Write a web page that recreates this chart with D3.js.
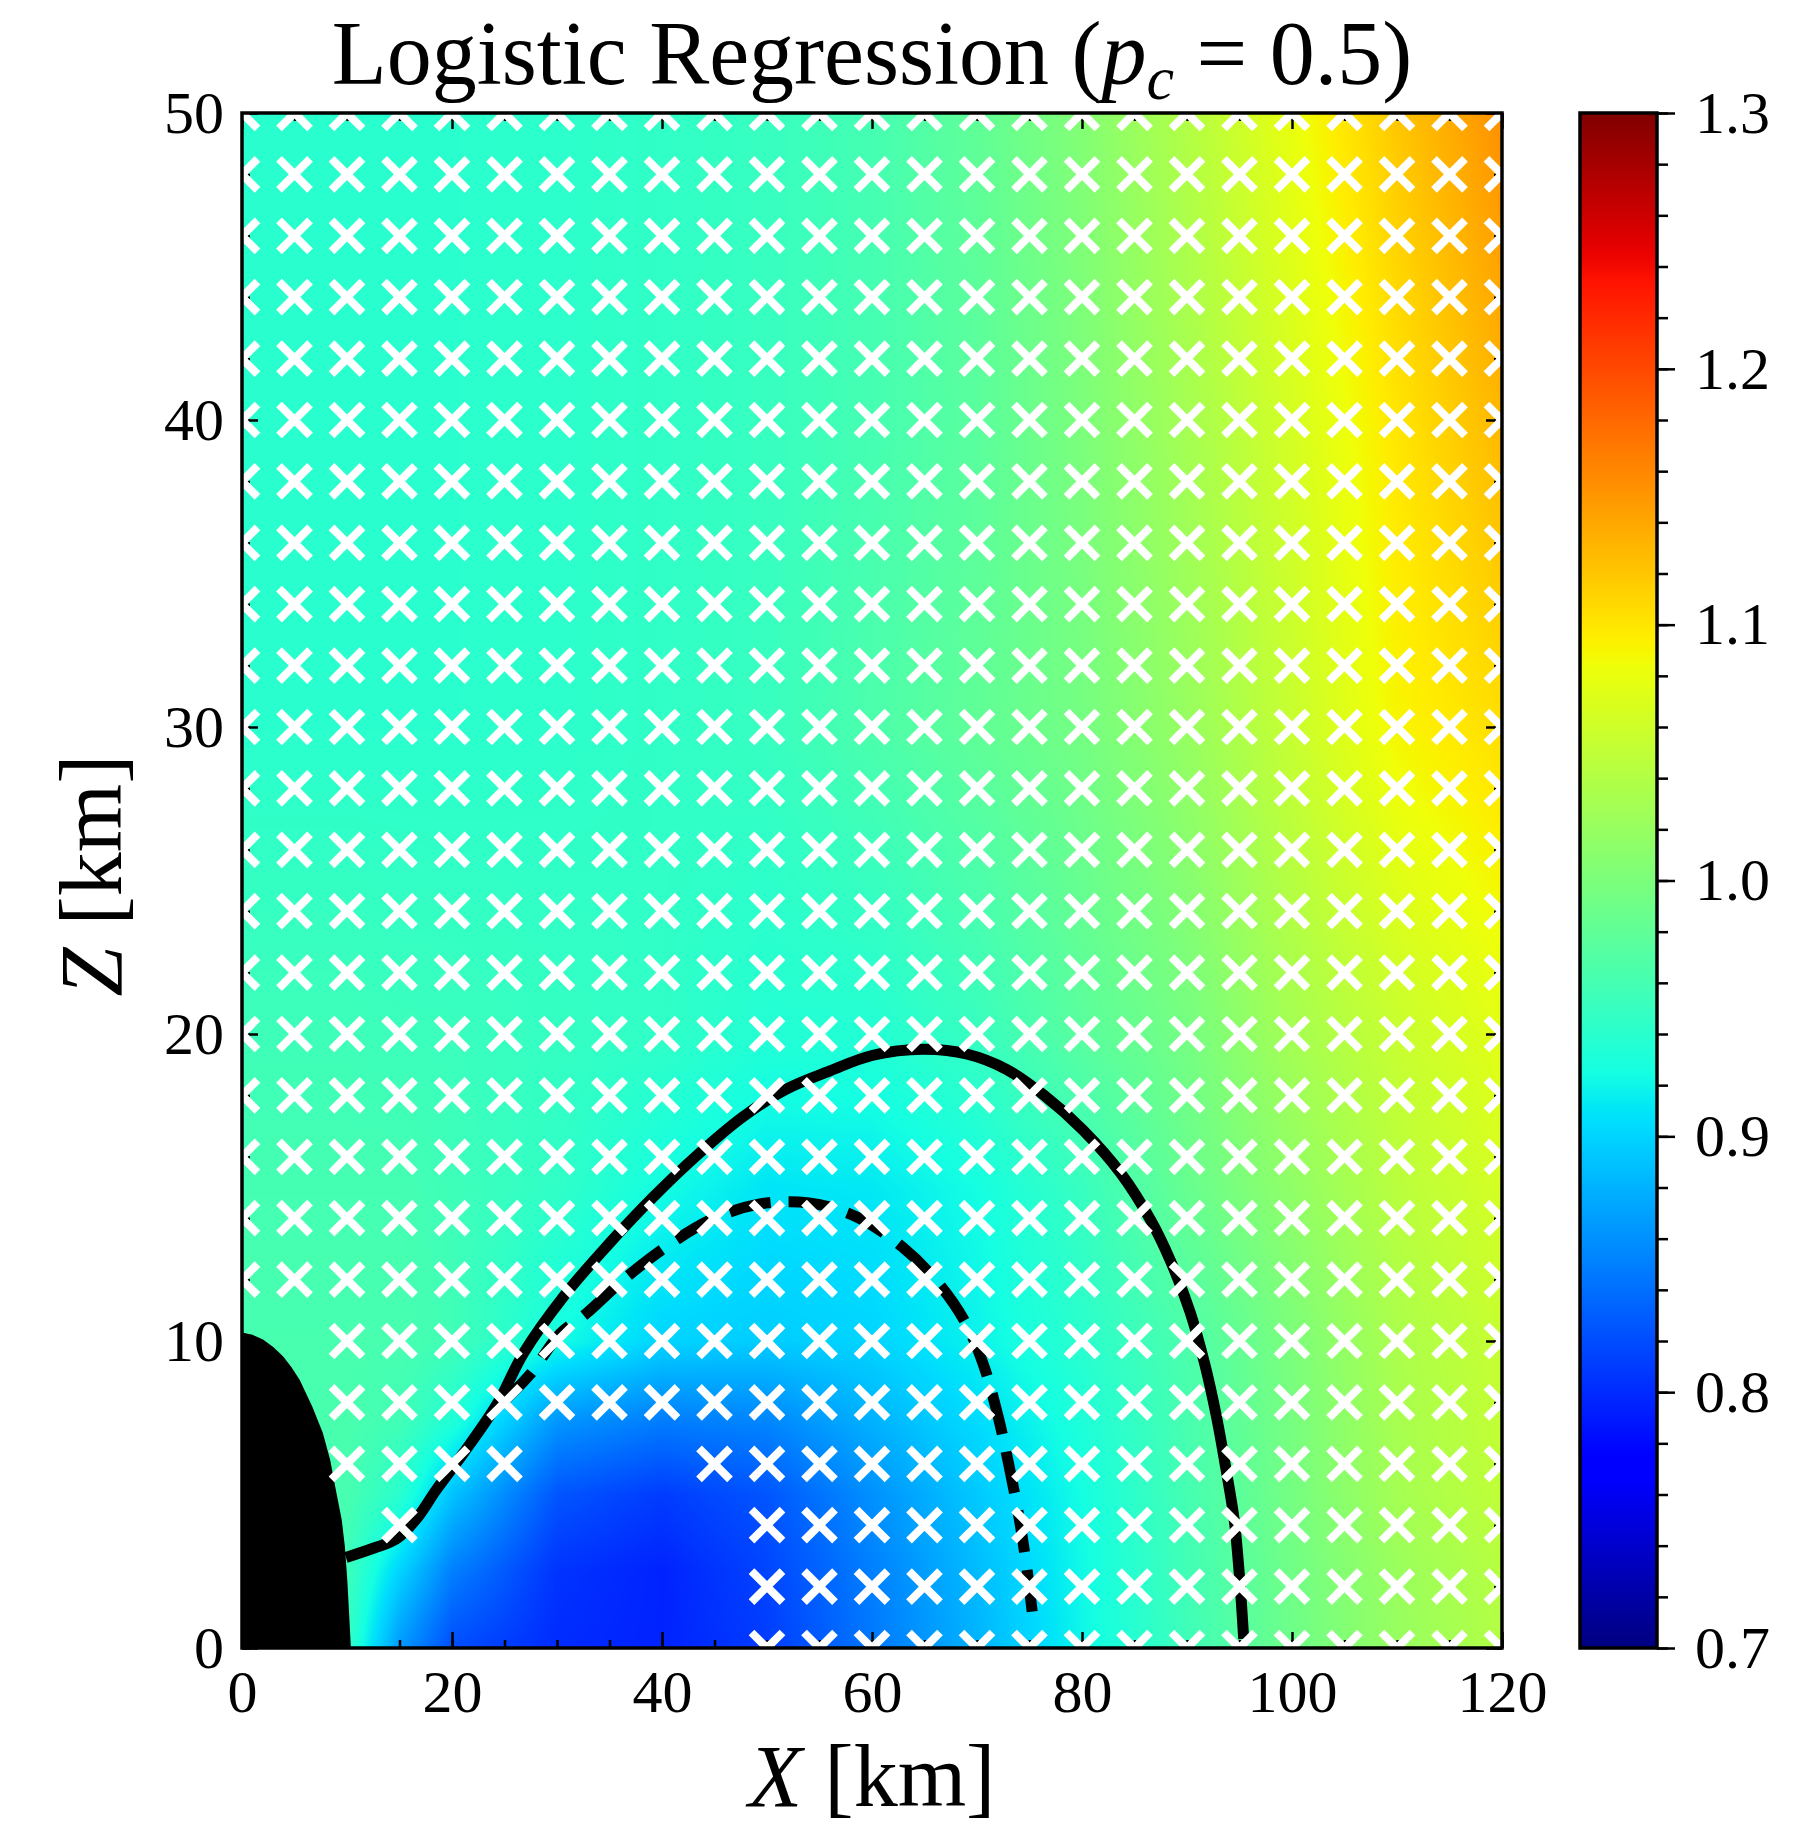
<!DOCTYPE html>
<html>
<head>
<meta charset="utf-8">
<script src="https://cdn.jsdelivr.net/npm/d3@7"></script>
<style>
  body { margin: 0; background: #fff; }
  svg { display: block; }
  text { font-family: "Liberation Serif", "DejaVu Serif", serif; fill: #000; }
</style>
</head>
<body>
<svg id="chart" width="1793" height="1833"></svg>
<script>
// ---- data -------------------------------------------------------------
// sample positions of the ratio field (km)
const gridX = [0, 5, 10, 15, 20, 30, 40, 50, 60, 70, 80, 90, 100, 110, 120];
const gridZ = [0, 2.5, 5, 7.5, 10, 15, 20, 30, 40, 50];

// field values, one row per entry of gridZ, one column per entry of gridX
const fieldZ0   = [0.960, 0.960, 0.948, 0.865, 0.820, 0.800, 0.795, 0.810, 0.845, 0.880, 0.920, 0.955, 0.990, 1.020, 1.040];
const fieldZ2_5 = [0.960, 0.960, 0.955, 0.900, 0.850, 0.805, 0.795, 0.815, 0.850, 0.885, 0.922, 0.957, 0.992, 1.022, 1.043];
const fieldZ5   = [0.960, 0.960, 0.962, 0.940, 0.890, 0.825, 0.810, 0.825, 0.860, 0.893, 0.925, 0.960, 0.995, 1.030, 1.050];
const fieldZ7_5 = [0.962, 0.962, 0.963, 0.958, 0.935, 0.865, 0.850, 0.855, 0.880, 0.905, 0.932, 0.962, 0.997, 1.032, 1.052];
const fieldZ10  = [0.962, 0.962, 0.962, 0.962, 0.957, 0.925, 0.900, 0.895, 0.900, 0.918, 0.940, 0.965, 1.000, 1.035, 1.055];
const fieldZ15  = [0.960, 0.960, 0.960, 0.960, 0.955, 0.945, 0.925, 0.910, 0.912, 0.925, 0.950, 0.985, 1.015, 1.045, 1.065];
const fieldZ20  = [0.955, 0.955, 0.955, 0.953, 0.952, 0.948, 0.945, 0.935, 0.935, 0.950, 0.975, 0.995, 1.030, 1.055, 1.075];
const fieldZ30  = [0.940, 0.940, 0.940, 0.940, 0.940, 0.942, 0.945, 0.950, 0.965, 0.980, 0.995, 1.020, 1.055, 1.090, 1.105];
const fieldZ40  = [0.940, 0.940, 0.940, 0.940, 0.940, 0.942, 0.945, 0.950, 0.960, 0.975, 1.000, 1.030, 1.065, 1.100, 1.130];
const fieldZ50  = [0.940, 0.940, 0.940, 0.940, 0.940, 0.942, 0.945, 0.950, 0.960, 0.980, 1.005, 1.040, 1.080, 1.120, 1.155];
const fieldRows = [fieldZ0, fieldZ2_5, fieldZ5, fieldZ7_5, fieldZ10, fieldZ15, fieldZ20, fieldZ30, fieldZ40, fieldZ50];

// tick labels
const xTicks = [0, 20, 40, 60, 80, 100, 120];
const zTicks = [0, 10, 20, 30, 40, 50];
const cTicks = [0.7, 0.8, 0.9, 1.0, 1.1, 1.2, 1.3];

// masked obstacle outline (x, z) in km
const obstacle = [
  [0, 10.28], [1.0, 10.2], [2.0, 10.05], [3.0, 9.8], [3.9, 9.5], [4.7, 9.15],
  [5.5, 8.73], [6.7, 7.86], [7.7, 7.0], [8.4, 6.12], [9.0, 5.04], [9.5, 4.17],
  [9.8, 3.3], [10.03, 2.21], [10.2, 1.13], [10.37, 0], [0, 0]
];

// p = 0.5 boundaries (x, z) in km
const outerContour = [
  [9.9, 2.95], [12.5, 3.25], [14.7, 3.55], [16.6, 4.2], [18.5, 5.15], [21.1, 6.35],
  [24.3, 7.95], [26.8, 9.6], [30.6, 11.44], [34.7, 13.07], [39.2, 14.7], [43.5, 16.1],
  [47.7, 17.3], [51.8, 18.2], [56.0, 18.8], [60.0, 19.3], [64.9, 19.5], [69.1, 19.34],
  [72.8, 18.85], [76.4, 18.0], [80.1, 16.87], [83.7, 15.46], [86.6, 13.9], [88.4, 12.63],
  [90.3, 10.94], [91.7, 9.24], [92.8, 7.55], [93.7, 5.85], [94.5, 4.16], [95.0, 2.32], [95.4, 0.3]
];
const innerContour = [
  [24.8, 8.0], [27.4, 8.9], [30.3, 10.24], [32.8, 10.9], [36.3, 11.99], [40.4, 13.07],
  [44.6, 13.94], [49.1, 14.45], [54.0, 14.5], [58.5, 14.05], [62.9, 13.06], [66.2, 11.93],
  [68.8, 10.66], [70.6, 9.24], [72.0, 7.55], [73.1, 5.85], [74.05, 4.16], [74.8, 2.46], [75.3, 1.05]
];

// marker lattice and the stretches of rows where no marker is drawn: [z, xFrom, xTo]
const markerX = [0, 5, 10, 15, 20, 25, 30, 35, 40, 45, 50, 55, 60, 65, 70, 75, 80, 85, 90, 95, 100, 105, 110, 115, 120];
const markerZ = [0, 2, 4, 6, 8, 10, 12, 14, 16, 18, 20, 22, 24, 26, 28, 30, 32, 34, 36, 38, 40, 42, 44, 46, 48, 50];
const markerGaps = [[10, 0, 5], [8, 0, 5], [6, 0, 5], [6, 30, 40], [4, 0, 10], [4, 20, 45], [2, 0, 45], [0, 0, 45]];

// ---- layout -------------------------------------------------------------
const plot = { left: 242, top: 113, right: 1502, bottom: 1648 };
const bar = { left: 1580, right: 1657 };

const x = d3.scaleLinear().domain([0, 120]).range([plot.left, plot.right]);
const z = d3.scaleLinear().domain([0, 50]).range([plot.bottom, plot.top]);
const c = d3.scaleLinear().domain([0.7, 1.3]).range([plot.bottom, plot.top]);

// matplotlib "jet" segment data
function piece(t, pts) {
  for (let i = 1; i < pts.length; i++) {
    if (t <= pts[i][0]) {
      const [t0, v0] = pts[i - 1], [t1, v1] = pts[i];
      return v0 + (v1 - v0) * (t - t0) / (t1 - t0);
    }
  }
  return pts[pts.length - 1][1];
}
function jet(t) {
  t = Math.max(0, Math.min(1, t));
  const r = piece(t, [[0, 0], [0.35, 0], [0.66, 1], [0.89, 1], [1, 0.5]]);
  const g = piece(t, [[0, 0], [0.125, 0], [0.375, 1], [0.64, 1], [0.91, 0], [1, 0]]);
  const b = piece(t, [[0, 0.5], [0.11, 1], [0.34, 1], [0.65, 0], [1, 0]]);
  return d3.rgb(r * 255, g * 255, b * 255).toString();
}
const color = d3.scaleSequential(jet).domain([0.7, 1.3]);

const svg = d3.select("#chart");
const defs = svg.append("defs");
defs.append("clipPath").attr("id", "plotClip")
  .append("rect")
  .attr("x", plot.left).attr("y", plot.top)
  .attr("width", plot.right - plot.left).attr("height", plot.bottom - plot.top);

// ---- shaded field (bilinear between samples, coloured through the scale) ----
(function drawField() {
  const W = plot.right - plot.left, H = plot.bottom - plot.top;
  const canvas = document.createElement("canvas");
  canvas.width = W; canvas.height = H;
  const ctx = canvas.getContext("2d");
  const img = ctx.createImageData(W, H);
  const lutN = 1024;
  const lut = [];
  for (let i = 0; i < lutN; i++) lut.push(d3.rgb(color(0.7 + 0.6 * i / (lutN - 1))));

  function locate(grid, v) {
    let i = d3.bisectRight(grid, v) - 1;
    i = Math.max(0, Math.min(grid.length - 2, i));
    const f = Math.max(0, Math.min(1, (v - grid[i]) / (grid[i + 1] - grid[i])));
    return [i, f];
  }
  const cols = [], rows = [];
  for (let px = 0; px < W; px++) cols.push(locate(gridX, x.invert(plot.left + px + 0.5)));
  for (let py = 0; py < H; py++) rows.push(locate(gridZ, z.invert(plot.top + py + 0.5)));

  let k = 0;
  for (let py = 0; py < H; py++) {
    const [j, fz] = rows[py];
    const r0 = fieldRows[j], r1 = fieldRows[j + 1];
    for (let px = 0; px < W; px++) {
      const [i, fx] = cols[px];
      const a = r0[i] + (r0[i + 1] - r0[i]) * fx;
      const b = r1[i] + (r1[i + 1] - r1[i]) * fx;
      const v = a + (b - a) * fz;
      let li = Math.round((v - 0.7) / 0.6 * (lutN - 1));
      li = Math.max(0, Math.min(lutN - 1, li));
      const col = lut[li];
      img.data[k++] = col.r; img.data[k++] = col.g; img.data[k++] = col.b; img.data[k++] = 255;
    }
  }
  ctx.putImageData(img, 0, 0);
  svg.append("image")
    .attr("x", plot.left).attr("y", plot.top)
    .attr("width", W).attr("height", H)
    .attr("preserveAspectRatio", "none")
    .attr("href", canvas.toDataURL());
})();

const inner = svg.append("g").attr("clip-path", "url(#plotClip)");

// masked obstacle
inner.append("path")
  .attr("d", d3.line().x(d => x(d[0])).y(d => z(d[1])).curve(d3.curveLinearClosed)(obstacle))
  .attr("fill", "#000");

// boundaries
const contourLine = d3.line().x(d => x(d[0])).y(d => z(d[1])).curve(d3.curveCatmullRom.alpha(0.5));
inner.append("path").attr("d", contourLine(outerContour))
  .attr("fill", "none").attr("stroke", "#000").attr("stroke-width", 11);
inner.append("path").attr("d", contourLine(innerContour))
  .attr("fill", "none").attr("stroke", "#000").attr("stroke-width", 11)
  .attr("stroke-dasharray", "42,18");

// ---- axis ticks (inward on all four sides) ----
function styleAxis(g, withLabels) {
  g.select(".domain").remove();
  g.selectAll(".tick line").attr("stroke", "#000").attr("stroke-width", 2.5);
  g.selectAll("text").attr("font-size", 60).attr("font-family", '"Liberation Serif", serif').attr("fill", "#000");
  if (!withLabels) g.selectAll("text").remove();
}
const axes = svg.append("g");
axes.append("g").attr("transform", `translate(0,${plot.bottom})`)
  .call(d3.axisBottom(x).tickValues(x.ticks(24)).tickSize(-8).tickFormat(""))
  .call(g => styleAxis(g, false));
axes.append("g").attr("transform", `translate(0,${plot.bottom})`)
  .call(d3.axisBottom(x).tickValues(xTicks).tickSize(-16).tickPadding(21).tickFormat(d3.format("d")))
  .call(g => styleAxis(g, true));
axes.append("g").attr("transform", `translate(0,${plot.top})`)
  .call(d3.axisTop(x).tickValues(x.ticks(24)).tickSize(-8).tickFormat(""))
  .call(g => styleAxis(g, false));
axes.append("g").attr("transform", `translate(0,${plot.top})`)
  .call(d3.axisTop(x).tickValues(xTicks).tickSize(-16).tickFormat(""))
  .call(g => styleAxis(g, false));
axes.append("g").attr("transform", `translate(${plot.left},0)`)
  .call(d3.axisLeft(z).tickValues(z.ticks(25)).tickSize(-8).tickFormat(""))
  .call(g => styleAxis(g, false));
axes.append("g").attr("transform", `translate(${plot.left},0)`)
  .call(d3.axisLeft(z).tickValues(zTicks).tickSize(-16).tickPadding(18).tickFormat(d3.format("d")))
  .call(g => styleAxis(g, true));
axes.append("g").attr("transform", `translate(${plot.right},0)`)
  .call(d3.axisRight(z).tickValues(z.ticks(25)).tickSize(-8).tickFormat(""))
  .call(g => styleAxis(g, false));
axes.append("g").attr("transform", `translate(${plot.right},0)`)
  .call(d3.axisRight(z).tickValues(zTicks).tickSize(-16).tickFormat(""))
  .call(g => styleAxis(g, false));

// ---- markers ----
const markers = [];
markerZ.forEach(zv => markerX.forEach(xv => {
  const skip = markerGaps.some(([gz, a, b]) => gz === zv && xv >= a && xv <= b);
  if (!skip) markers.push([xv, zv]);
}));
const arm = 15.5;
svg.append("g").attr("clip-path", "url(#plotClip)")
  .selectAll("path").data(markers).join("path")
  .attr("transform", d => `translate(${x(d[0])},${z(d[1])})`)
  .attr("d", `M${-arm},${-arm}L${arm},${arm}M${-arm},${arm}L${arm},${-arm}`)
  .attr("stroke", "#fff").attr("stroke-width", 8).attr("fill", "none");

// frame
svg.append("rect")
  .attr("x", plot.left).attr("y", plot.top)
  .attr("width", plot.right - plot.left).attr("height", plot.bottom - plot.top)
  .attr("fill", "none").attr("stroke", "#000").attr("stroke-width", 3.5);

// ---- colour bar ----
const grad = defs.append("linearGradient").attr("id", "jetGrad")
  .attr("x1", 0).attr("y1", 1).attr("x2", 0).attr("y2", 0);
d3.range(0, 1.0001, 1 / 120).forEach(t => {
  grad.append("stop").attr("offset", t).attr("stop-color", color(0.7 + 0.6 * t));
});
svg.append("rect")
  .attr("x", bar.left).attr("y", plot.top)
  .attr("width", bar.right - bar.left).attr("height", plot.bottom - plot.top)
  .attr("fill", "url(#jetGrad)").attr("stroke", "#000").attr("stroke-width", 3.5);
svg.append("g").attr("transform", `translate(${bar.right},0)`)
  .call(d3.axisRight(c).tickValues(c.ticks(30)).tickSize(11).tickFormat(""))
  .call(g => styleAxis(g, false));
svg.append("g").attr("transform", `translate(${bar.right},0)`)
  .call(d3.axisRight(c).tickValues(cTicks).tickSize(18).tickPadding(20).tickFormat(d3.format(".1f")))
  .call(g => styleAxis(g, true));

// ---- titles ----
const title = svg.append("text").attr("x", (plot.left + plot.right) / 2).attr("y", 84)
  .attr("text-anchor", "middle").attr("font-size", 90);
title.append("tspan").text("Logistic Regression (");
title.append("tspan").attr("font-style", "italic").text("p");
title.append("tspan").attr("font-style", "italic").attr("font-size", 62).attr("dy", 15).text("c");
title.append("tspan").attr("dy", -15).text(" = 0.5)");

const xLabel = svg.append("text").attr("x", (plot.left + plot.right) / 2).attr("y", 1806)
  .attr("text-anchor", "middle").attr("font-size", 88);
xLabel.append("tspan").attr("font-style", "italic").text("X");
xLabel.append("tspan").text(" [km]");

const zLabel = svg.append("text")
  .attr("transform", `translate(121,${(plot.top + plot.bottom) / 2 - 5}) rotate(-90)`)
  .attr("text-anchor", "middle").attr("font-size", 88);
zLabel.append("tspan").attr("font-style", "italic").text("Z");
zLabel.append("tspan").text(" [km]");
</script>
</body>
</html>
